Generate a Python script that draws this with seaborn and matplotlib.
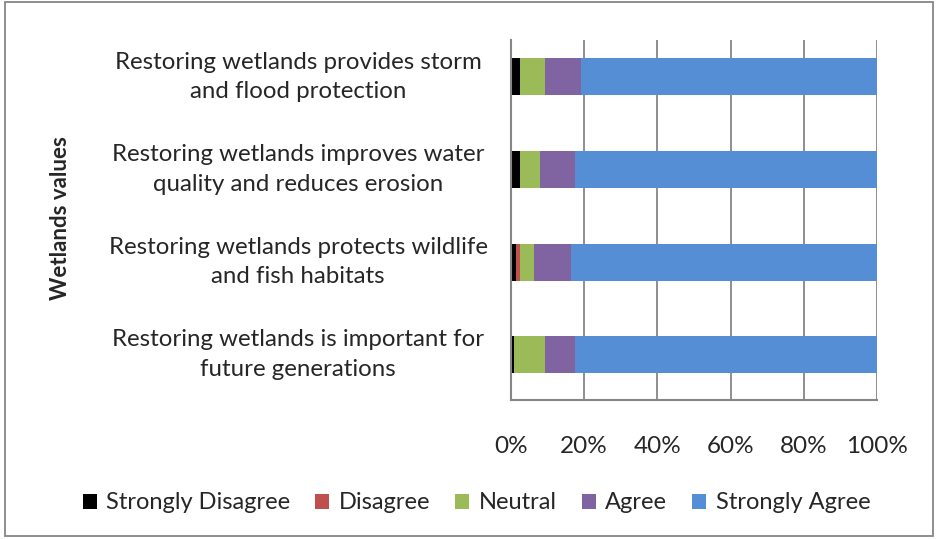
import matplotlib
matplotlib.use("Agg")
import matplotlib.pyplot as plt
import seaborn as sns
import pandas as pd
from matplotlib.patches import Rectangle, Patch
from matplotlib.transforms import blended_transform_factory

statements = [
    "Restoring wetlands provides storm\nand flood protection",
    "Restoring wetlands improves water\nquality and reduces erosion",
    "Restoring wetlands protects wildlife\nand fish habitats",
    "Restoring wetlands is important for\nfuture generations",
]
responses = ["Strongly Disagree", "Disagree", "Neutral", "Agree", "Strongly Agree"]
strongly_disagree = [2.5, 2.5, 1.4, 0.8]
disagree = [0.0, 0.0, 1.1, 0.0]
neutral = [6.7, 5.5, 3.9, 8.4]
agree = [10.0, 9.5, 10.0, 8.3]
strongly_agree = [80.8, 82.5, 83.6, 82.5]
colors = ["#000000", "#C0504D", "#9BBB59", "#8064A2", "#558ED5"]

df = pd.DataFrame({
    "statement": statements,
    "Strongly Disagree": strongly_disagree,
    "Disagree": disagree,
    "Neutral": neutral,
    "Agree": agree,
    "Strongly Agree": strongly_agree,
})
cum = df[responses].cumsum(axis=1)

sns.set_style("white")
plt.rcParams["font.family"] = ["Lato", "DejaVu Sans"]

fig = plt.figure(figsize=(9.38, 5.39), dpi=100)
ax = fig.add_axes([0.5448, 0.2579, 0.3902, 0.668])

# draw from the longest cumulative bar back to the shortest
for resp, col in zip(reversed(responses), reversed(colors)):
    sns.barplot(x=cum[resp], y=df["statement"], color=col, orient="h",
                width=0.4, ax=ax, zorder=3, linewidth=0, saturation=1)

ax.set_xlim(0, 100)
ax.set_ylim(3.49, -0.4)
ax.set_xticks([0, 20, 40, 60, 80, 100])
ax.set_xticklabels([f"{v}%" for v in [0, 20, 40, 60, 80, 100]], fontsize=17.5)
ax.tick_params(axis="x", length=0, pad=26)
ax.set_yticks([0.5, 1.5, 2.5])
ax.set_yticklabels([])
ax.tick_params(axis="y", length=10, width=1.5, color="#868686", direction="out")
ax.set_xlabel("")
ax.set_ylabel("")

# category labels, centred as multi-line blocks left of the axis
tr = blended_transform_factory(fig.transFigure, ax.transData)
for i, s in enumerate(statements):
    ax.text(0.318, i, s, transform=tr, ha="center", va="center",
            multialignment="center", fontsize=17.3, linespacing=1.5)

ax.grid(axis="x", color="#868686", linewidth=1.3, zorder=0)
for side in ["top", "right"]:
    ax.spines[side].set_visible(False)
for side in ["left", "bottom"]:
    ax.spines[side].set_color("#868686")
    ax.spines[side].set_linewidth(1.5)
    ax.spines[side].set_zorder(4)

fig.text(0.064, 0.595, "Wetlands values", rotation=90, fontsize=16,
         fontweight="bold", ha="center", va="center")

handles = [Patch(facecolor=c, edgecolor="none") for c in colors]
fig.legend(handles, responses, loc="center", bbox_to_anchor=(0.508, 0.067),
           ncol=5, frameon=False, fontsize=17, handlelength=0.6,
           handleheight=0.6, handletextpad=0.4, columnspacing=1.05)

fig.patches.append(Rectangle((0.005, 0.006), 0.99, 0.99, transform=fig.transFigure,
                             fill=False, edgecolor="#868686", linewidth=1.3))

plt.savefig("out.png", dpi=100)
